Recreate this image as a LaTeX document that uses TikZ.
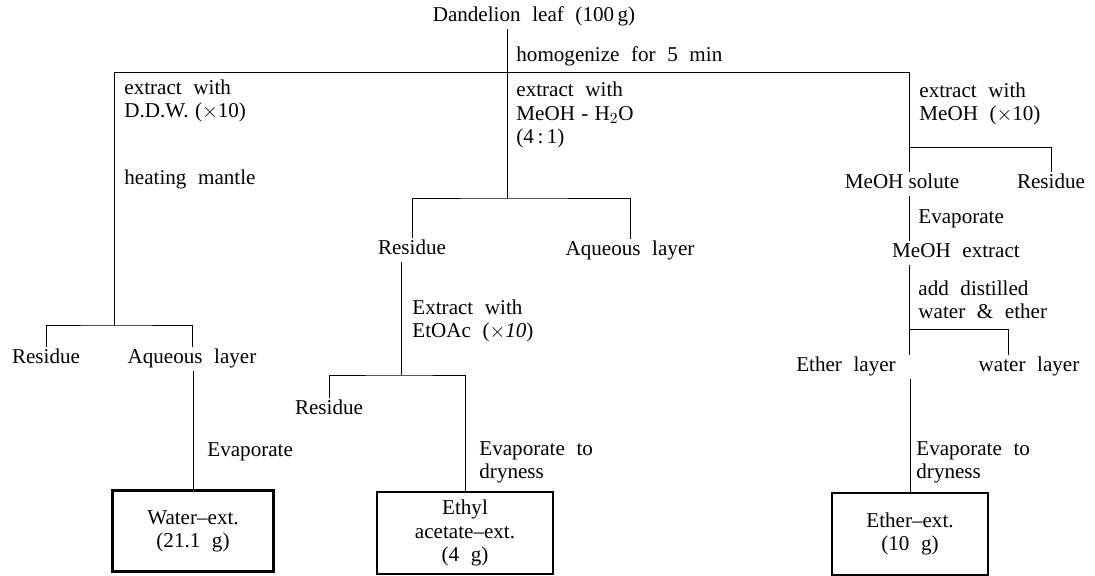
\documentclass[tikz,border=0pt]{standalone}
\usepackage{fontspec}
\setmainfont{Liberation Serif}
\usepackage{tikz}
\usetikzlibrary{positioning,calc}
\newcommand\flowfont{\fontsize{15}{16.5}\selectfont\spaceskip=0.55em plus 0.1em\relax}
\tikzset{
    lbl/.style={inner sep=0pt, outer sep=2pt, text height=10pt, text depth=3pt},
    note/.style={inner sep=0pt, anchor=west, align=left},
    extbox/.style={draw, line width=1.5pt, inner sep=0pt, align=center},
}
\begin{document}
\begin{tikzpicture}[x=0.025cm, y=-0.025cm, line width=0.6pt, font=\flowfont]
    \useasboundingbox (0,0) rectangle (1095,576);
    \coordinate (jtop) at (507,72);
    \coordinate (jleft) at (114,72);
    \coordinate (jright) at (909,72);
    \coordinate (jmid) at (507,198);
    \coordinate (jwater) at (114,325);
    \coordinate (jea) at (401,375);
    \coordinate (jmeoh) at (909,147);
    \coordinate (jether) at (909,329);
    \node[lbl] (leaf) at (534,17) {Dandelion leaf (100\,g)};
    \node[lbl] (res1) at (46,359) {Residue};
    \node[lbl] (aq1) at (192,359) {Aqueous layer};
    \node[lbl] (res2) at (412,250) {Residue};
    \node[lbl] (aq2) at (630,251) {Aqueous layer};
    \node[lbl] (res3) at (329,410) {Residue};
    \node[lbl] (solute) at (902,184) {MeOH\hspace{0.25em}solute};
    \node[lbl] (res4) at (1051,184) {Residue};
    \node[lbl] (mext) at (956,253) {MeOH extract};
    \node[lbl] (etherl) at (846,367) {Ether layer};
    \node[lbl] (waterl) at (1029,367) {water layer};
    \node[extbox, minimum width=4.025cm, minimum height=2.025cm] (wext) at (193,531) {Water--ext.\\(21.1 g)};
    \node[extbox, minimum width=4.4cm, minimum height=2.05cm] (eaext) at (465,533) {Ethyl\\acetate--ext.\\(4 g)};
    \node[extbox, minimum width=3.9cm, minimum height=2.05cm] (etext) at (910,534) {Ether--ext.\\(10 g)};
    \node[note] (hom) at (516,56) {homogenize for 5 min};
    \node[note] (ddw) at (124,101) {extract with\\D.D.W.\hspace{0.3em}($\times$10)};
    \node[note] (heat) at (124,179) {heating mantle};
    \node[note] (meohw) at (516,115) {extract with\\MeOH\hspace{0.3em}-\hspace{0.3em}H$_2$O\\(4\,:\,1)};
    \node[note] (meohx) at (919,104) {extract with\\MeOH ($\times$10)};
    \node[note] (evap1) at (207,452) {Evaporate};
    \node[note] (etoac) at (412,321) {Extract with\\EtOAc ($\times$\textit{10})};
    \node[note] (dry1) at (479,462) {Evaporate to\\dryness};
    \node[note] (evap2) at (918,219) {Evaporate};
    \node[note] (dist) at (918,300) {add distilled\\water \& ether};
    \node[note] (dry2) at (916,462) {Evaporate to\\dryness};
    \draw (leaf.south -| jtop) -- (jmid);
    \draw (jleft) -- (jright);
    \draw (jleft) -- (jwater);
    \draw (res1.north) |- (jwater) -| (aq1.north);
    \draw (aq1.south -| wext.north) -- (wext.north);
    \draw (res2.north) |- (jmid) -| (aq2.north);
    \draw (res2.south -| jea) -- (jea);
    \draw (res3.north) |- (jea) -| (eaext.north);
    \draw (jright) -- (jmeoh);
    \draw (jmeoh) -- (solute.north -| jmeoh);
    \draw (jmeoh) -| (res4.north);
    \draw (solute.south -| jmeoh) -- (mext.north -| jmeoh);
    \draw (mext.south -| jmeoh) -- (jether);
    \draw (jether) -- (etherl.north -| jether);
    \draw (jether) -| ($(waterl.north)+(-21,0)$);
    \draw (etherl.south -| etext.north) -- (etext.north);
\end{tikzpicture}
\end{document}
